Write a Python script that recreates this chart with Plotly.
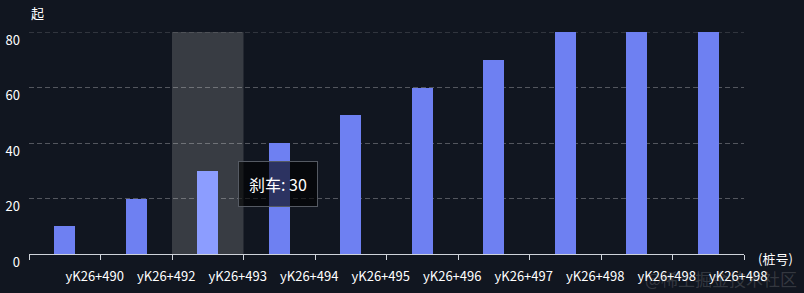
import plotly.graph_objects as go

categories = ["yK26+490", "yK26+492", "yK26+493", "yK26+494", "yK26+495",
              "yK26+496", "yK26+497", "yK26+498", "yK26+498", "yK26+498"]
values = [10, 20, 30, 40, 50, 60, 70, 80, 80, 80]
series_name = "刹车"
y_ticks = [0, 20, 40, 60, 80]
hover_index = 2

FONT = "Noto Sans CJK SC, Noto Sans, sans-serif"
BG = "#111620"
BAR = "#6e80f2"
BAR_HI = "#8c9dff"

xs = list(range(len(categories)))
colors = [BAR_HI if i == hover_index else BAR for i in xs]

fig = go.Figure()
fig.add_trace(go.Bar(
    x=xs, y=values, width=0.3, marker=dict(color=colors, line=dict(width=0)),
    name=series_name, hoverinfo="skip",
))

# hover shadow band
fig.add_shape(type="rect", xref="x", yref="y",
              x0=hover_index - 0.5, x1=hover_index + 0.5, y0=0, y1=max(y_ticks),
              fillcolor="rgba(150,150,150,0.3)", line=dict(width=0), layer="below")

# top grid line (at range edge)
fig.add_shape(type="line", xref="paper", yref="y", x0=0, x1=1,
              y0=max(y_ticks), y1=max(y_ticks),
              line=dict(color="rgba(255,255,255,0.28)", width=1, dash="5px,3px"), layer="below")

# tooltip
fig.add_annotation(x=hover_index + 0.98, y=values[hover_index] * 0.835, xref="x", yref="y",
                   text=f"{series_name}: {values[hover_index]}", showarrow=False,
                   font=dict(family=FONT, size=16, color="#ffffff"),
                   bgcolor="rgba(0,0,0,0.6)", bordercolor="#555a63", borderwidth=1,
                   borderpad=10)

# axis names
fig.add_annotation(x=0, y=1, xref="paper", yref="paper", xanchor="left", yanchor="bottom",
                   yshift=8, text="起", showarrow=False,
                   font=dict(family=FONT, size=13, color="#ffffff"))
fig.add_annotation(x=1, y=0, xref="paper", yref="paper", xanchor="left", yanchor="middle",
                   xshift=12, yshift=-4, text="(桩号)", showarrow=False,
                   font=dict(family=FONT, size=13, color="#ffffff"))
# watermark
fig.add_annotation(x=1, y=0, xref="paper", yref="paper", xanchor="right", yanchor="top",
                   xshift=55, yshift=-10, text="@稀土掘金技术社区", showarrow=False,
                   font=dict(family=FONT, size=17, color="rgba(200,200,200,0.2)"))

fig.update_layout(
    width=804, height=293,
    margin=dict(l=29, r=60, t=32, b=39, autoexpand=False),
    paper_bgcolor=BG, plot_bgcolor=BG,
    showlegend=False,
    font=dict(family=FONT, size=13, color="#ffffff"),
    bargap=0,
)
fig.update_xaxes(
    range=[-0.5, len(categories) - 0.5], automargin=False,
    tickmode="array", tickvals=xs, ticktext=categories,
    ticks="", ticklabelshift=30, ticklabelstandoff=10,
    tickfont=dict(family=FONT, size=13, color="#ffffff"),
    showgrid=False, zeroline=False,
    showline=True, linecolor="#cfd3da", linewidth=1,
    minor=dict(tickmode="array", tickvals=[i - 0.5 for i in range(len(categories) + 1)],
               ticks="outside", ticklen=5, tickcolor="#cfd3da", tickwidth=1, showgrid=False),
)
fig.update_yaxes(
    range=[0, max(y_ticks)], automargin=False,
    tickmode="array", tickvals=y_ticks,
    tickfont=dict(family=FONT, size=13, color="#ffffff"),
    ticklabelshift=8, ticklabelstandoff=8,
    showgrid=True, gridcolor="rgba(255,255,255,0.28)", griddash="5px,3px", gridwidth=1,
    zeroline=False, showline=False, ticks="",
)

fig.write_html("out.html")
